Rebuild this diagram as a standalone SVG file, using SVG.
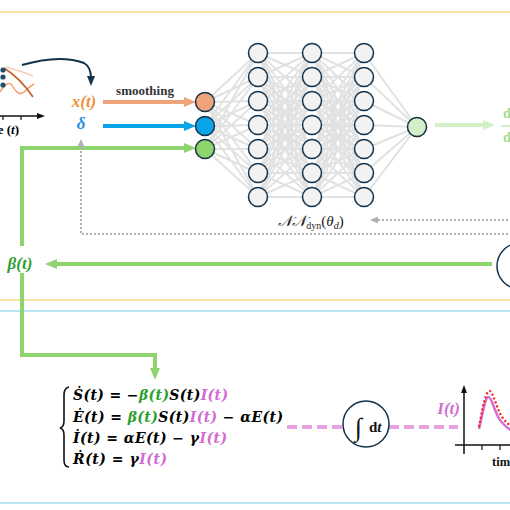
<svg xmlns="http://www.w3.org/2000/svg" width="510" height="510" viewBox="0 0 510 510">
<style>
.t{font-family:"Liberation Serif","DejaVu Serif",serif;font-weight:bold}
.eq{font-family:"DejaVu Serif","Liberation Serif",serif;font-weight:bold;font-style:italic}
.bi{font-style:italic}
.nd{stroke:#14334a;stroke-width:1.5}
.nn{fill:#f2f2f2;stroke:#14334a;stroke-width:1.5}
.edge{stroke:#e2e2e2;stroke-width:2;fill:none}
.grn{stroke:#8ed46c;stroke-width:4;fill:none}
.dot{stroke:#b0b0b0;stroke-width:2;stroke-dasharray:2 2;fill:none}
.pink{stroke:#e6a3e3;stroke-width:4;stroke-dasharray:10 5;fill:none}
</style>
<defs>
<marker id="aOr" viewBox="0 0 12 10" refX="3" refY="5" markerWidth="12" markerHeight="10" markerUnits="userSpaceOnUse" orient="auto"><path d="M0,0L12,5L0,10z" fill="#f0a47c"/></marker>
<marker id="aBl" viewBox="0 0 12 10" refX="3" refY="5" markerWidth="12" markerHeight="10" markerUnits="userSpaceOnUse" orient="auto"><path d="M0,0L12,5L0,10z" fill="#0aa5e8"/></marker>
<marker id="aGr" viewBox="0 0 12 10" refX="3" refY="5" markerWidth="12" markerHeight="10" markerUnits="userSpaceOnUse" orient="auto"><path d="M0,0L12,5L0,10z" fill="#8ed46c"/></marker>
<marker id="aLg" viewBox="0 0 12 10" refX="3" refY="5" markerWidth="12" markerHeight="10" markerUnits="userSpaceOnUse" orient="auto"><path d="M0,0L12,5L0,10z" fill="#d3efc6"/></marker>
<marker id="aGy" viewBox="0 0 8 7" refX="1" refY="3.5" markerWidth="8" markerHeight="7" markerUnits="userSpaceOnUse" orient="auto"><path d="M0,0L8,3.5L0,7z" fill="#b0b0b0"/></marker>
<marker id="aNv" viewBox="0 0 10 8" refX="2" refY="4" markerWidth="10" markerHeight="8" markerUnits="userSpaceOnUse" orient="auto"><path d="M0,0L10,4L0,8z" fill="#14334a"/></marker>
<marker id="aBk" viewBox="0 0 8 6" refX="1" refY="3" markerWidth="8" markerHeight="6" markerUnits="userSpaceOnUse" orient="auto"><path d="M0,0L8,3L0,6z" fill="#111"/></marker>
</defs>
<rect width="510" height="510" fill="#fff"/>
<g id="panels" fill="none">
<line x1="0" y1="12" x2="510" y2="12" stroke="#f5d98a" stroke-width="1.5"/>
<line x1="0" y1="300" x2="510" y2="300" stroke="#f5d98a" stroke-width="1.5"/>
<line x1="0" y1="311" x2="510" y2="311" stroke="#b8e4f8" stroke-width="2"/>
<line x1="0" y1="503" x2="510" y2="503" stroke="#b8e4f8" stroke-width="2"/>
</g>
<g id="data-plot">
<path d="M6,67 Q18,70 33,76" stroke="#f7cdb9" stroke-width="1.5" fill="none"/>
<path d="M0,92 Q7,80 12,85 Q18,97 24,92 Q29,87 34,84" stroke="#f0a070" stroke-width="1.5" fill="none"/>
<path d="M4,68 Q20,78 33,97" stroke="#c8602a" stroke-width="1.8" fill="none"/>
<circle cx="3" cy="70" r="2.6" fill="#1d4d6b"/>
<circle cx="3" cy="77" r="2.6" fill="#1d4d6b"/>
<circle cx="3" cy="85" r="2.6" fill="#1d4d6b"/>
<line x1="0" y1="116" x2="38" y2="116" stroke="#111" stroke-width="1.5" marker-end="url(#aBk)"/>
<line x1="3" y1="116" x2="3" y2="120" stroke="#111" stroke-width="1.2"/>
<line x1="21" y1="116" x2="21" y2="120" stroke="#111" stroke-width="1.2"/>
<text class="t" x="19" y="134" font-size="13" text-anchor="end">time (<tspan class="bi">t</tspan>)</text>
</g>
<g id="connectors">
<path class="edge" d="M205 102L258 53M205 102L258 77M205 102L258 101M205 102L258 125M205 102L258 149M205 102L258 173M205 102L258 197M205 126L258 53M205 126L258 77M205 126L258 101M205 126L258 125M205 126L258 149M205 126L258 173M205 126L258 197M205 149L258 53M205 149L258 77M205 149L258 101M205 149L258 125M205 149L258 149M205 149L258 173M205 149L258 197"/>
<path class="edge" d="M258 53L312 53M258 53L312 77M258 53L312 101M258 53L312 125M258 53L312 149M258 53L312 173M258 53L312 197M258 77L312 53M258 77L312 77M258 77L312 101M258 77L312 125M258 77L312 149M258 77L312 173M258 77L312 197M258 101L312 53M258 101L312 77M258 101L312 101M258 101L312 125M258 101L312 149M258 101L312 173M258 101L312 197M258 125L312 53M258 125L312 77M258 125L312 101M258 125L312 125M258 125L312 149M258 125L312 173M258 125L312 197M258 149L312 53M258 149L312 77M258 149L312 101M258 149L312 125M258 149L312 149M258 149L312 173M258 149L312 197M258 173L312 53M258 173L312 77M258 173L312 101M258 173L312 125M258 173L312 149M258 173L312 173M258 173L312 197M258 197L312 53M258 197L312 77M258 197L312 101M258 197L312 125M258 197L312 149M258 197L312 173M258 197L312 197"/>
<path class="edge" d="M312 53L364 53M312 53L364 77M312 53L364 101M312 53L364 125M312 53L364 149M312 53L364 173M312 53L364 197M312 77L364 53M312 77L364 77M312 77L364 101M312 77L364 125M312 77L364 149M312 77L364 173M312 77L364 197M312 101L364 53M312 101L364 77M312 101L364 101M312 101L364 125M312 101L364 149M312 101L364 173M312 101L364 197M312 125L364 53M312 125L364 77M312 125L364 101M312 125L364 125M312 125L364 149M312 125L364 173M312 125L364 197M312 149L364 53M312 149L364 77M312 149L364 101M312 149L364 125M312 149L364 149M312 149L364 173M312 149L364 197M312 173L364 53M312 173L364 77M312 173L364 101M312 173L364 125M312 173L364 149M312 173L364 173M312 173L364 197M312 197L364 53M312 197L364 77M312 197L364 101M312 197L364 125M312 197L364 149M312 197L364 173M312 197L364 197"/>
<path class="edge" d="M364 53L417 127M364 77L417 127M364 101L417 127M364 125L417 127M364 149L417 127M364 173L417 127M364 197L417 127"/>
<path d="M22,65 Q60,54 84,63 Q91,67 91,78" stroke="#14334a" stroke-width="2" fill="none" marker-end="url(#aNv)"/>
<line x1="103" y1="102" x2="187" y2="102" stroke="#f0a47c" stroke-width="4" marker-end="url(#aOr)"/>
<line x1="103" y1="126" x2="187" y2="126" stroke="#0aa5e8" stroke-width="4" marker-end="url(#aBl)"/>
<path class="grn" d="M22,246 L22,148 L187,148" marker-end="url(#aGr)"/>
<line class="grn" x1="492" y1="264" x2="54" y2="264" marker-end="url(#aGr)"/>
<path class="grn" d="M22,273 L22,355 L155,355 L155,371" marker-end="url(#aGr)"/>
<line x1="435" y1="125" x2="486" y2="125" stroke="#d3efc6" stroke-width="4" marker-end="url(#aLg)"/>
<line class="dot" x1="512" y1="220" x2="377" y2="220" marker-end="url(#aGy)"/>
<path class="dot" d="M512,234 L81,234 L81,146" marker-end="url(#aGy)"/>
<line class="pink" x1="287" y1="427" x2="343" y2="427"/>
<line class="pink" x1="389" y1="427" x2="458" y2="427"/>
</g>
<g id="labels">
<text class="t" x="145" y="95" font-size="13" text-anchor="middle" fill="#333">smoothing</text>
<text class="t bi" x="84" y="107" font-size="17" text-anchor="middle" fill="#f0913a">x(t)</text>
<text class="t bi" x="81" y="129" font-size="17" text-anchor="middle" fill="#1e8fe8">δ</text>
<text class="t bi" x="20" y="269" font-size="17" text-anchor="middle" fill="#2e9e2e">β(t)</text>
<text x="311" y="226" font-family="'Liberation Serif','DejaVu Serif',serif" font-size="15" text-anchor="middle" fill="#222"><tspan font-style="italic">𝒩𝒩</tspan><tspan font-size="10" dy="3">dyn</tspan><tspan dy="-3">(</tspan><tspan font-style="italic">θ</tspan><tspan font-size="10" font-style="italic" dy="3">d</tspan><tspan dy="-3">)</tspan></text>
<g fill="#a6dc8c">
<text class="t" x="503" y="118" font-size="14">dβ</text>
<line x1="501" y1="126" x2="512" y2="126" stroke="#a6dc8c" stroke-width="1"/>
<text class="t" x="503" y="142" font-size="14">dt</text>
</g>
</g>
<g id="in-x"><circle class="nd" cx="205" cy="102" r="9.5" fill="#f0a47c"/></g>
<g id="in-delta"><circle class="nd" cx="205" cy="126" r="9.5" fill="#0aa5e8"/></g>
<g id="in-beta"><circle class="nd" cx="205" cy="149" r="9.5" fill="#8ed46c"/></g>
<g id="h1-1"><circle class="nn" cx="258" cy="53" r="9.5"/></g>
<g id="h1-2"><circle class="nn" cx="258" cy="77" r="9.5"/></g>
<g id="h1-3"><circle class="nn" cx="258" cy="101" r="9.5"/></g>
<g id="h1-4"><circle class="nn" cx="258" cy="125" r="9.5"/></g>
<g id="h1-5"><circle class="nn" cx="258" cy="149" r="9.5"/></g>
<g id="h1-6"><circle class="nn" cx="258" cy="173" r="9.5"/></g>
<g id="h1-7"><circle class="nn" cx="258" cy="197" r="9.5"/></g>
<g id="h2-1"><circle class="nn" cx="312" cy="53" r="9.5"/></g>
<g id="h2-2"><circle class="nn" cx="312" cy="77" r="9.5"/></g>
<g id="h2-3"><circle class="nn" cx="312" cy="101" r="9.5"/></g>
<g id="h2-4"><circle class="nn" cx="312" cy="125" r="9.5"/></g>
<g id="h2-5"><circle class="nn" cx="312" cy="149" r="9.5"/></g>
<g id="h2-6"><circle class="nn" cx="312" cy="173" r="9.5"/></g>
<g id="h2-7"><circle class="nn" cx="312" cy="197" r="9.5"/></g>
<g id="h3-1"><circle class="nn" cx="364" cy="53" r="9.5"/></g>
<g id="h3-2"><circle class="nn" cx="364" cy="77" r="9.5"/></g>
<g id="h3-3"><circle class="nn" cx="364" cy="101" r="9.5"/></g>
<g id="h3-4"><circle class="nn" cx="364" cy="125" r="9.5"/></g>
<g id="h3-5"><circle class="nn" cx="364" cy="149" r="9.5"/></g>
<g id="h3-6"><circle class="nn" cx="364" cy="173" r="9.5"/></g>
<g id="h3-7"><circle class="nn" cx="364" cy="197" r="9.5"/></g>
<g id="out"><circle class="nd" cx="417" cy="127" r="9.5" fill="#d4efc8"/></g>
<g id="integ-top">
<circle cx="520" cy="266" r="23" fill="#fff" stroke="#14334a" stroke-width="1.5"/>
<text x="513" y="282" font-family="'Liberation Serif','DejaVu Serif',serif" font-size="24" fill="#111">∫</text>
</g>
<g id="seir">
<path d="M69,387 Q64,388 64,395 L64,421 Q64,427 60,428 Q64,429 64,435 L64,460 Q64,467 69,467" stroke="#111" stroke-width="1.6" fill="none"/>
<text class="eq" x="73" y="400" font-size="14" textLength="155" lengthAdjust="spacing">Ṡ(t) = −<tspan fill="#2ca02c">β(t)</tspan>S(t)<tspan fill="#d36bd3">I(t)</tspan></text>
<text class="eq" x="73" y="422" font-size="14" textLength="210" lengthAdjust="spacing">Ė(t) = <tspan fill="#2ca02c">β(t)</tspan>S(t)<tspan fill="#d36bd3">I(t)</tspan> − αE(t)</text>
<text class="eq" x="73" y="443" font-size="14" textLength="154" lengthAdjust="spacing">İ(t) = αE(t) − γ<tspan fill="#d36bd3">I(t)</tspan></text>
<text class="eq" x="73" y="464" font-size="14" textLength="94" lengthAdjust="spacing">Ṙ(t) = γ<tspan fill="#d36bd3">I(t)</tspan></text>
</g>
<g id="integ">
<circle cx="366" cy="424" r="23" fill="#fff" stroke="#14334a" stroke-width="1.5"/>
<text x="355" y="436" font-family="'Liberation Serif','DejaVu Serif',serif" font-size="26" fill="#111">∫</text>
<text class="t" x="369" y="432" font-size="15" fill="#111">d<tspan class="bi">t</tspan></text>
</g>
<g id="i-plot">
<text class="t bi" x="460" y="414" font-size="17" text-anchor="end" fill="#d070d0">I(t)</text>
<line x1="464" y1="454" x2="464" y2="392" stroke="#111" stroke-width="1.5" marker-end="url(#aBk)"/>
<line x1="455" y1="445" x2="512" y2="445" stroke="#111" stroke-width="1.5"/>
<line x1="482" y1="445" x2="482" y2="450" stroke="#111" stroke-width="1.2"/>
<line x1="500" y1="445" x2="500" y2="450" stroke="#111" stroke-width="1.2"/>
<path d="M479,429 C483,412 485,397 488.5,397 C492,397 495,414 500,420 C504,425 507,428 511,430" stroke="#d070d0" stroke-width="2.5" fill="none"/>
<path d="M479,427 C483,405 486,391 489.5,391 C493,391 497,410 502,417 C505,421 508,424 511,426" stroke="#ff1a1a" stroke-width="2.2" stroke-dasharray="2 2.2" fill="none"/>
<text class="t" x="492" y="466" font-size="12.5" fill="#111">time (<tspan class="bi">t</tspan>)</text>
</g>
</svg>
